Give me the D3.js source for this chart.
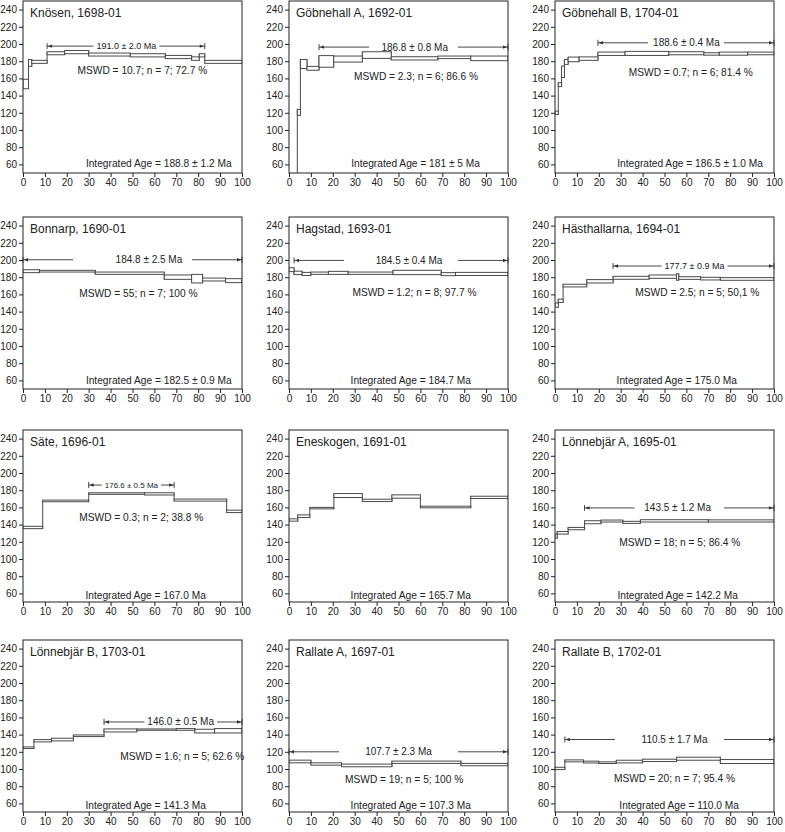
<!DOCTYPE html>
<html><head><meta charset="utf-8">
<script src="https://cdn.jsdelivr.net/npm/d3@7"></script>
<style>
body{margin:0;background:#fff;}
svg{display:block;font-family:"Liberation Sans",Arial,Helvetica,sans-serif;}
</style></head><body>
<svg id="chart" width="785" height="832"></svg>
<script>
// ---------------- DATA ----------------
const titles = [
  "Knösen, 1698-01", "Göbnehall A, 1692-01", "Göbnehall B, 1704-01",
  "Bonnarp, 1690-01", "Hagstad, 1693-01", "Hästhallarna, 1694-01",
  "Säte, 1696-01", "Eneskogen, 1691-01", "Lönnebjär A, 1695-01",
  "Lönnebjär B, 1703-01", "Rallate A, 1697-01", "Rallate B, 1702-01"
];
// cumulative % 39Ar released: step boundaries
const edges = [
  [0, 2.5, 4, 11, 19, 30, 49, 65, 77, 80.5, 83, 100],
  [0, 3.8, 5.2, 8.2, 13.7, 20.4, 33.5, 46.7, 68, 83, 100],
  [0, 1.5, 3, 4.3, 6, 11, 19.6, 32, 52, 68, 75, 88, 100],
  [0, 7.5, 33, 64.5, 77, 82, 92.5, 100],
  [0, 2.3, 6, 10, 18, 27, 47.5, 69.5, 76, 100],
  [0, 1.5, 3.7, 14.5, 26.5, 43, 55.5, 56.5, 66.5, 75.5, 100],
  [0, 9, 30, 55.5, 69, 93, 100],
  [0, 4, 9.5, 20.5, 33.5, 47, 60, 83, 100],
  [0, 1, 6, 13.5, 21, 31, 39, 70, 100],
  [0, 5, 13, 23, 37, 52, 70, 78.5, 87.5, 100],
  [0, 10, 24, 47, 78.5, 100],
  [0, 4.5, 13, 20, 28, 40, 55.5, 75.5, 100]
];
// lower edge of each step box (age - error, Ma)
const ageLo = [
  [148, 174, 177.5, 187.5, 188.7, 186, 185, 183, 181, 185, 177.5],
  [20, 117, 171.5, 169.5, 173, 179, 183.3, 181.4, 183, 180.6],
  [118, 150.5, 161, 176.3, 179.4, 181, 186.7, 186.7, 187.5, 187, 187, 187.5],
  [185.3, 186, 183.3, 177.5, 173.3, 175.6, 173.7],
  [186.5, 183, 182, 183.3, 183.3, 183.3, 183, 181.8, 182],
  [145, 150.6, 168.7, 173.3, 177.6, 178.7, 176.4, 177.5, 176.8, 176.4],
  [135.3, 166.6, 175.2, 174.4, 167.3, 154],
  [144, 148.2, 158.3, 171.5, 166.8, 170.7, 159.5, 170.3],
  [124.2, 129, 134, 141, 143, 141.4, 143, 143],
  [123.8, 131.5, 132.7, 137.7, 143.1, 145, 145, 141.9, 141.9],
  [107.2, 104.5, 102.6, 106.5, 103.8],
  [99.3, 108.3, 107, 106.4, 107.1, 108.7, 110.2, 106.4]
];
// upper edge of each step box (age + error, Ma)
const ageHi = [
  [159, 182, 181, 191, 192.5, 189.5, 188.7, 186.7, 185, 188.7, 181],
  [45, 124, 182, 174, 186.5, 186, 191, 185.2, 186, 186],
  [122, 155, 174.4, 182, 184.8, 185, 190.6, 191.4, 191, 189.8, 190.6, 190.6],
  [188.7, 188, 186, 182.6, 183.3, 179, 178.3],
  [191, 187, 185.6, 186, 186.8, 186, 188, 185.3, 185.6],
  [150, 154.5, 171.8, 177.2, 181, 182.6, 184, 180.6, 179.9, 179.5],
  [138, 168.5, 177, 177, 169.7, 156.8],
  [146.7, 151.3, 160, 176.1, 169.5, 174.6, 161.4, 173],
  [128.9, 132, 136.7, 144.5, 145.3, 143.8, 145.7, 145.5],
  [125.7, 134.2, 135.8, 139.6, 146.6, 146.6, 147, 146.2, 147],
  [110.3, 107.2, 105.7, 109.2, 106.5],
  [102, 110.6, 109.1, 108.3, 110.2, 111.4, 113.7, 111]
];
// plateau: [start %, end %] (null = no plateau)
const plateauRange = [
  [11, 83], [13.7, 100], [19.6, 100], [0, 100], [2.3, 100], [26.5, 100],
  [30, 69], null, [13.5, 100], [37, 100], [0, 100], [4.5, 100]
];
const plateauText = [
  "191.0 ± 2.0 Ma", "186.8 ± 0.8 Ma", "188.6 ± 0.4 Ma", "184.8 ± 2.5 Ma",
  "184.5 ± 0.4 Ma", "177.7 ± 0.9 Ma", "176.6 ± 0.5 Ma", null,
  "143.5 ± 1.2 Ma", "146.0 ± 0.5 Ma", "107.7 ± 2.3 Ma", "110.5 ± 1.7 Ma"
];
const mswdText = [
  "MSWD = 10.7; n = 7; 72.7 %", "MSWD = 2.3; n = 6; 86.6 %", "MSWD = 0.7; n = 6; 81.4 %",
  "MSWD = 55; n = 7; 100 %", "MSWD = 1.2; n = 8; 97.7 %", "MSWD = 2.5; n = 5; 50,1 %",
  "MSWD = 0.3; n = 2; 38.8 %", null, "MSWD = 18; n = 5; 86.4 %",
  "MSWD = 1.6; n = 5; 62.6 %", "MSWD = 19; n = 5; 100 %", "MSWD = 20; n = 7; 95.4 %"
];
const integratedText = [
  "Integrated Age = 188.8 ± 1.2 Ma", "Integrated Age = 181 ± 5 Ma", "Integrated Age = 186.5 ± 1.0 Ma",
  "Integrated Age = 182.5 ± 0.9 Ma", "Integrated Age = 184.7 Ma", "Integrated Age = 175.0 Ma",
  "Integrated Age = 167.0 Ma", "Integrated Age = 165.7 Ma", "Integrated Age = 142.2 Ma",
  "Integrated Age = 141.3 Ma", "Integrated Age = 107.3 Ma", "Integrated Age = 110.0 Ma"
];
const xTicks = [0, 10, 20, 30, 40, 50, 60, 70, 80, 90, 100];
const yTicks = [60, 80, 100, 120, 140, 160, 180, 200, 220, 240];

// ---------------- ANNOTATION PLACEMENT (data coordinates) ----------------
const plateauLineAge = [197.5, 196.4, 201.4, 200.3, 199.5, 193, 186, null, 159.4, 154.7, 120, 134.3];
const plateauTextX   = [47.2, 57.4, 60, 57.5, 54.8, 63.7, 49.5, null, 56, 72, 50, 54.6];
const plateauFontPx  = [9, 10, 10, 10, 10, 9, 8, null, 10, 10, 10, 10];
const mswdAnchor = [[54.5,165],[58,158],[62,162.8],[52.7,157],[57.3,157.8],[65,158],
                    [54,144],null,[57,114.8],[72.7,110.5],[52.6,84],[54.6,84.8]];
const integratedAnchor = [[62,56.6],[57.8,56.6],[61.7,56.6],[62,56],[55.6,56],[55.6,56],
                          [56,53.3],[55.6,54],[56,53.8],[56,53],[55.6,54],[56.7,54]];

// ---------------- LAYOUT ----------------
const colLeft = [23, 289, 555];
const rowTop = [1, 217, 430, 640];
const plotW = 219, plotH = 172;
const ink = "#222", stepStroke = "#4a4a4a";

const svg = d3.select("#chart");

titles.forEach((title, i) => {
  const c = i % 3, r = Math.floor(i / 3);
  const left = colLeft[c], top = rowTop[r];
  const x = d3.scaleLinear().domain([0, 100]).range([left, left + plotW]);
  const y = d3.scaleLinear().domain([50, 250]).range([top + plotH, top]);
  const g = svg.append("g");

  const clipId = "clip" + i;
  svg.append("clipPath").attr("id", clipId).append("rect")
    .attr("x", left).attr("y", top).attr("width", plotW).attr("height", plotH);

  // steps
  const e = edges[i], lo = ageLo[i], hi = ageHi[i];
  const steps = lo.map((v, k) => ({x0: e[k], x1: e[k + 1], lo: v, hi: hi[k]}));
  const data = g.append("g").attr("clip-path", `url(#${clipId})`);
  // connectors between consecutive steps
  const conns = steps.slice(0, -1).map((s, k) => {
    const n = steps[k + 1];
    return {x: s.x1, a: Math.min(s.lo, n.lo), b: Math.max(s.hi, n.hi)};
  });
  data.selectAll("line.conn").data(conns).join("line")
    .attr("x1", d => x(d.x)).attr("x2", d => x(d.x))
    .attr("y1", d => y(d.a)).attr("y2", d => y(d.b))
    .attr("stroke", stepStroke).attr("stroke-width", 1);
  data.selectAll("rect.step").data(steps).join("rect")
    .attr("x", d => x(d.x0)).attr("width", d => x(d.x1) - x(d.x0))
    .attr("y", d => y(d.hi)).attr("height", d => Math.max(0.5, y(d.lo) - y(d.hi)))
    .attr("fill", "#fff").attr("stroke", stepStroke).attr("stroke-width", 1);

  // frame
  g.append("rect").attr("x", left).attr("y", top).attr("width", plotW).attr("height", plotH)
    .attr("fill", "none").attr("stroke", ink).attr("stroke-width", 1);

  // axes
  const ya = g.append("g").attr("transform", `translate(${left},0)`)
    .call(d3.axisLeft(y).tickValues(yTicks).tickSize(4).tickPadding(2));
  const xa = g.append("g").attr("transform", `translate(0,${top + plotH})`)
    .call(d3.axisBottom(x).tickValues(xTicks).tickSize(4).tickPadding(2));
  [ya, xa].forEach(a => {
    a.select(".domain").remove();
    a.selectAll("line").attr("stroke", ink);
    a.selectAll("text").attr("fill", ink).style("font-size", "10px")
      .style("font-family", '"Liberation Sans",Arial,sans-serif');
  });

  // title
  g.append("text").attr("x", left + 7).attr("y", top + 16)
    .attr("fill", ink).style("font-size", "12px").text(title);

  // plateau indicator
  if (plateauRange[i]) {
    const [p0, p1] = plateauRange[i];
    const py = y(plateauLineAge[i]);
    const xa0 = x(p0), xa1 = x(p1);
    const t = g.append("text").attr("x", x(plateauTextX[i])).attr("y", py)
      .attr("dy", "0.35em").attr("text-anchor", "middle").attr("fill", ink)
      .style("font-size", plateauFontPx[i] + "px").text(plateauText[i]);
    const tw = t.node().getComputedTextLength();
    const tl = x(plateauTextX[i]) - tw / 2 - 3, tr = x(plateauTextX[i]) + tw / 2 + 3;
    const segLen = 50;
    const lEnd = Math.min(xa0 + segLen, tl), rStart = Math.max(xa1 - segLen, tr);
    const pl = g.append("g").attr("stroke", "#333").attr("stroke-width", 0.9);
    pl.append("line").attr("x1", xa0).attr("x2", lEnd).attr("y1", py).attr("y2", py);
    pl.append("line").attr("x1", rStart).attr("x2", xa1).attr("y1", py).attr("y2", py);
    pl.append("line").attr("x1", xa0).attr("x2", xa0).attr("y1", py - 3).attr("y2", py + 3);
    pl.append("line").attr("x1", xa1).attr("x2", xa1).attr("y1", py - 3).attr("y2", py + 3);
    g.append("path").attr("fill", "#333")
      .attr("d", `M${xa0 + 0.8},${py}L${xa0 + 5},${py - 1.7}L${xa0 + 5},${py + 1.7}Z`);
    g.append("path").attr("fill", "#333")
      .attr("d", `M${xa1 - 0.8},${py}L${xa1 - 5},${py - 1.7}L${xa1 - 5},${py + 1.7}Z`);
  }

  // MSWD
  if (mswdText[i]) {
    g.append("text").attr("x", x(mswdAnchor[i][0])).attr("y", y(mswdAnchor[i][1]))
      .attr("text-anchor", "middle").attr("fill", ink).style("font-size", "10.2px")
      .text(mswdText[i]);
  }
  // integrated age
  g.append("text").attr("x", x(integratedAnchor[i][0])).attr("y", y(integratedAnchor[i][1]))
    .attr("text-anchor", "middle").attr("fill", ink).style("font-size", "10.2px")
    .text(integratedText[i]);
});
</script>
</body></html>
